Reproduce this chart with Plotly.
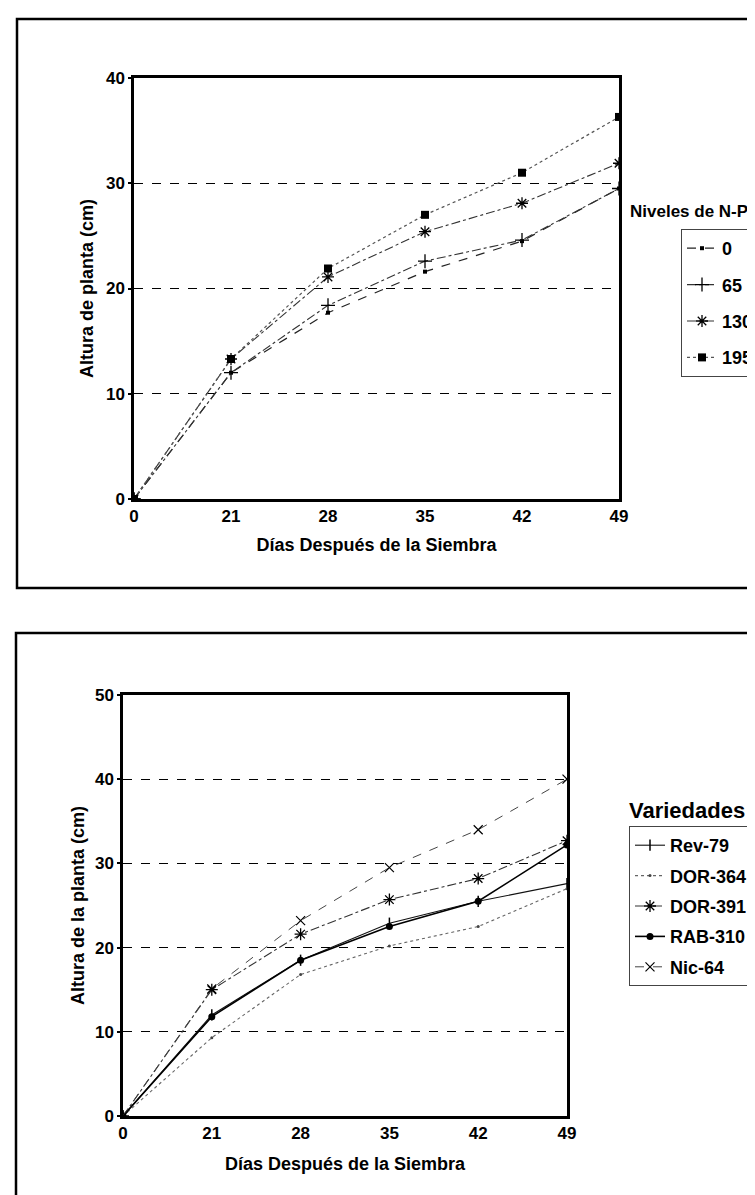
import plotly.graph_objects as go

# ---------------- data ----------------
days = ["0", "21", "28", "35", "42", "49"]

np_levels = ["0", "65", "130", "195"]
np_0 = [0, 12.0, 17.7, 21.6, 24.5, 29.5]
np_65 = [0, 12.0, 18.4, 22.6, 24.6, 29.5]
np_130 = [0, 13.3, 21.1, 25.4, 28.1, 31.9]
np_195 = [0, 13.3, 21.9, 27.0, 31.0, 36.3]

variedades = ["Rev-79", "DOR-364", "DOR-391", "RAB-310", "Nic-64"]
rev_79 = [0, 12.0, 18.5, 22.9, 25.5, 27.6]
dor_364 = [0, 9.3, 16.8, 20.2, 22.5, 27.0]
dor_391 = [0, 15.0, 21.6, 25.7, 28.2, 32.7]
rab_310 = [0, 11.8, 18.5, 22.5, 25.5, 32.2]
nic_64 = [0, 15.1, 23.2, 29.5, 34.0, 40.0]

title_x = "Días Después de la Siembra"
top_title_y = "Altura de planta (cm)"
bot_title_y = "Altura de la planta (cm)"

W, H = 755, 1195
FONT = "Liberation Sans, Arial, sans-serif"

def px_x(p):
    return p / W

def px_y(p):
    return 1 - p / H

fig = go.Figure()

# ---------------- top chart ----------------
top_styles = [
    (np_0, dict(symbol="square", size=4, color="black"), dict(dash="dash", width=1.2, color="#222")),
    (np_65, dict(symbol="cross-thin", size=10, color="black", line=dict(width=1.3, color="black")), dict(dash="dashdot", width=1.1, color="#333")),
    (np_130, dict(symbol="asterisk", size=10, color="black", line=dict(width=1.3, color="black")), dict(dash="dashdot", width=1.1, color="#333")),
    (np_195, dict(symbol="square", size=8, color="black"), dict(dash="dot", width=1.2, color="#555")),
]
for name, (vals, mk, ln) in zip(np_levels, top_styles):
    fig.add_trace(go.Scatter(
        x=days, y=vals, name=name, mode="lines+markers",
        marker=mk, line=ln, xaxis="x", yaxis="y",
        legend="legend", legendgroup="t" + name,
    ))

# ---------------- bottom chart ----------------
bot_styles = [
    (rev_79, dict(symbol="line-ns", size=8, color="black", line=dict(width=1.5, color="black")), dict(dash="solid", width=1.1, color="#111")),
    (dor_364, dict(symbol="circle", size=3, color="#444"), dict(dash="dot", width=1.1, color="#666")),
    (dor_391, dict(symbol="asterisk", size=10, color="black", line=dict(width=1.3, color="black")), dict(dash="dashdot", width=1.1, color="#333")),
    (rab_310, dict(symbol="circle", size=7, color="black"), dict(dash="solid", width=1.6, color="black")),
    (nic_64, dict(symbol="x-thin", size=9, color="black", line=dict(width=1.2, color="black")), dict(dash="dash", width=1.0, color="#444")),
]
for name, (vals, mk, ln) in zip(variedades, bot_styles):
    fig.add_trace(go.Scatter(
        x=days, y=vals, name=name, mode="lines+markers",
        marker=mk, line=ln, xaxis="x2", yaxis="y2",
        legend="legend2", legendgroup="b" + name,
    ))

TICKFONT = dict(family=FONT, size=17, color="black", weight="bold")
TITLEFONT = dict(family=FONT, size=18, color="black", weight="bold")

axis_common = dict(
    type="category", range=[0, 5], showline=True, mirror=True,
    linecolor="black", linewidth=2.5, showgrid=False, zeroline=False,
    ticks="", tickfont=TICKFONT, title_font=TITLEFONT,
)
yaxis_common = dict(
    showline=True, mirror=True, linecolor="black", linewidth=2.5,
    showgrid=True, gridcolor="black", gridwidth=1, griddash="dash",
    zeroline=False, ticks="outside", ticklen=3, tickwidth=1.5, tickcolor="black",
    dtick=10, tickfont=TICKFONT, title_font=TITLEFONT,
)

LEGFONT = dict(family=FONT, size=18, color="black", weight="bold")

fig.update_layout(
    width=W, height=H, template="none",
    margin=dict(l=0, r=0, t=0, b=0),
    paper_bgcolor="white", plot_bgcolor="white",
    font=dict(family=FONT, color="black"),
    xaxis=dict(axis_common, domain=[px_x(126), px_x(611)], anchor="y",
               title=dict(text=title_x, standoff=14)),
    yaxis=dict(yaxis_common, domain=[px_y(491), px_y(70)], anchor="x", range=[0, 40],
               title=dict(text=top_title_y, standoff=8)),
    xaxis2=dict(axis_common, domain=[px_x(115), px_x(559)], anchor="y2",
                title=dict(text=title_x, standoff=16)),
    yaxis2=dict(yaxis_common, domain=[px_y(1108), px_y(687)], anchor="x2", range=[0, 50],
                title=dict(text=bot_title_y, standoff=6)),
    legend=dict(x=px_x(673), y=px_y(221), xanchor="left", yanchor="top",
                bordercolor="#444", borderwidth=1, bgcolor="white",
                font=LEGFONT, tracegroupgap=10, itemwidth=30),
    legend2=dict(x=px_x(621), y=px_y(818), xanchor="left", yanchor="top",
                 bordercolor="#444", borderwidth=1, bgcolor="white",
                 font=LEGFONT, tracegroupgap=4, itemwidth=30),
    showlegend=True,
)

fig.add_annotation(text="Niveles de N-P", xref="paper", yref="paper",
                   x=px_x(620), y=px_y(203), xanchor="left", yanchor="middle",
                   showarrow=False, font=dict(family=FONT, size=17, color="black", weight="bold"))
fig.add_annotation(text="Variedades", xref="paper", yref="paper",
                   x=px_x(619), y=px_y(802), xanchor="left", yanchor="middle",
                   showarrow=False, font=dict(family=FONT, size=22, color="black", weight="bold"))

# panel frames
fig.add_shape(type="rect", xref="paper", yref="paper",
              x0=px_x(9), x1=1.02, y0=px_y(580), y1=px_y(11),
              line=dict(color="black", width=2.5))
fig.add_shape(type="rect", xref="paper", yref="paper",
              x0=px_x(8), x1=1.02, y0=px_y(1192), y1=px_y(625),
              line=dict(color="black", width=2.5))

fig.write_html("out.html")
